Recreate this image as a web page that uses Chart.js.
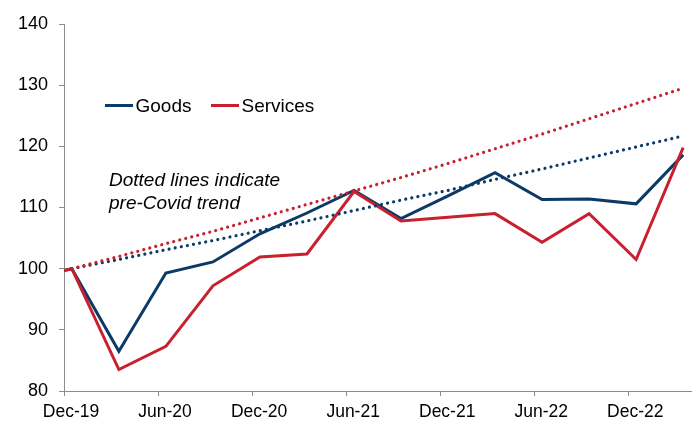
<!DOCTYPE html>
<html>
<head>
<meta charset="utf-8">
<title>Goods and services spending vs pre-Covid trend</title>
<script src="https://cdn.jsdelivr.net/npm/chart.js@4/dist/chart.umd.min.js"></script>
<style>
  body { margin: 0; background: #fff; }
  #chart { display: block; }
</style>
</head>
<body>
<canvas id="chart" width="697" height="423"></canvas>
<script>
// months after Dec-19 (quarterly readings, plotted mid-month)
const months = [0, 0.5, 3.5, 6.5, 9.5, 12.5, 15.5, 18.5, 21.5, 24.5, 27.5, 30.5, 33.5, 36.5, 39.5];
const goods = [99.7, 100, 86.5, 99.3, 101.1, 105.7, 109.1, 112.8, 108.2, 111.9, 115.7, 111.3, 111.4, 110.6, 118.6];
const services = [99.7, 100, 83.5, 87.3, 97.2, 101.9, 102.4, 112.6, 107.8, 108.4, 109.0, 104.3, 109.0, 101.5, 119.8];

// pre-Covid trend lines (dotted), same quarterly dates without the first point
const trendMonths = [0.5, 3.5, 6.5, 9.5, 12.5, 15.5, 18.5, 21.5, 24.5, 27.5, 30.5, 33.5, 36.5, 39.5];
const goodsTrend = [100, 101.5, 103.1, 104.6, 106.2, 107.8, 109.5, 111.2, 112.8, 114.6, 116.3, 118.1, 119.9, 121.7];
const servicesTrend = [100, 102.0, 104.1, 106.1, 108.3, 110.5, 112.7, 114.9, 117.2, 119.6, 122.0, 124.5, 127.0, 129.5];

// x-axis tick labels
const tickMonths = [0, 6, 12, 18, 24, 30, 36];
const tickLabels = ['Dec-19', 'Jun-20', 'Dec-20', 'Jun-21', 'Dec-21', 'Jun-22', 'Dec-22'];

const NAVY = '#0b3a66';
const RED = '#c8202e';
const AXIS = '#8c8c8c';
const FONT = 'Arial, "Liberation Sans", sans-serif';

const toPoints = (xs, ys) => xs.map((x, i) => ({ x, y: ys[i] }));

// legend + note drawn inside the plot area
const overlay = {
  id: 'overlay',
  afterDraw(chart) {
    const ctx = chart.ctx;
    ctx.save();
    ctx.lineWidth = 3;
    ctx.fillStyle = '#000';
    ctx.font = '19px ' + FONT;
    ctx.textBaseline = 'alphabetic';

    // Goods
    ctx.strokeStyle = NAVY;
    ctx.beginPath();
    ctx.moveTo(105, 105.5);
    ctx.lineTo(133, 105.5);
    ctx.stroke();
    ctx.fillText('Goods', 135.5, 112);

    // Services
    ctx.strokeStyle = RED;
    ctx.beginPath();
    ctx.moveTo(211, 105.5);
    ctx.lineTo(239, 105.5);
    ctx.stroke();
    ctx.fillText('Services', 241.5, 112);

    ctx.font = 'italic 19px ' + FONT;
    ctx.fillText('Dotted lines indicate', 109, 186);
    ctx.fillText('pre-Covid trend', 109, 209);
    ctx.restore();
  }
};

new Chart(document.getElementById('chart'), {
  type: 'line',
  data: {
    datasets: [
      {
        label: 'Services trend',
        data: toPoints(trendMonths, servicesTrend),
        borderColor: RED,
        borderWidth: 3.2,
        borderDash: [0.001, 6.2],
        borderCapStyle: 'round',
        pointRadius: 0,
        order: 1
      },
      {
        label: 'Goods trend',
        data: toPoints(trendMonths, goodsTrend),
        borderColor: NAVY,
        borderWidth: 3.2,
        borderDash: [0.001, 6.2],
        borderCapStyle: 'round',
        pointRadius: 0,
        order: 2
      },
      {
        label: 'Services',
        data: toPoints(months, services),
        borderColor: RED,
        borderWidth: 3,
        pointRadius: 0,
        order: 3
      },
      {
        label: 'Goods',
        data: toPoints(months, goods),
        borderColor: NAVY,
        borderWidth: 3,
        pointRadius: 0,
        order: 4
      }
    ]
  },
  options: {
    responsive: false,
    animation: false,
    devicePixelRatio: 1,
    layout: { padding: { top: 24, right: 6, left: 0, bottom: 0 } },
    plugins: {
      legend: { display: false },
      tooltip: { enabled: false }
    },
    scales: {
      x: {
        type: 'linear',
        min: 0,
        max: 40,
        afterBuildTicks: (scale) => {
          scale.ticks = tickMonths.map(v => ({ value: v }));
        },
        afterFit: (scale) => { scale.height = 32; },
        border: { display: true, color: AXIS, width: 1 },
        grid: { drawOnChartArea: false, drawTicks: true, tickLength: 5, color: AXIS },
        ticks: {
          autoSkip: false,
          maxRotation: 0,
          padding: 6,
          labelOffset: 7,
          color: '#000',
          font: { family: FONT, size: 17.5 },
          callback: (value) => {
            const i = tickMonths.indexOf(value);
            return i >= 0 ? tickLabels[i] : '';
          }
        }
      },
      y: {
        min: 80,
        max: 140,
        afterFit: (scale) => { scale.width = 64; },
        border: { display: true, color: AXIS, width: 1 },
        grid: { drawOnChartArea: false, drawTicks: true, tickLength: 5, color: AXIS },
        ticks: {
          stepSize: 10,
          padding: 11,
          color: '#000',
          font: { family: FONT, size: 18 }
        }
      }
    }
  },
  plugins: [overlay]
});
</script>
</body>
</html>
